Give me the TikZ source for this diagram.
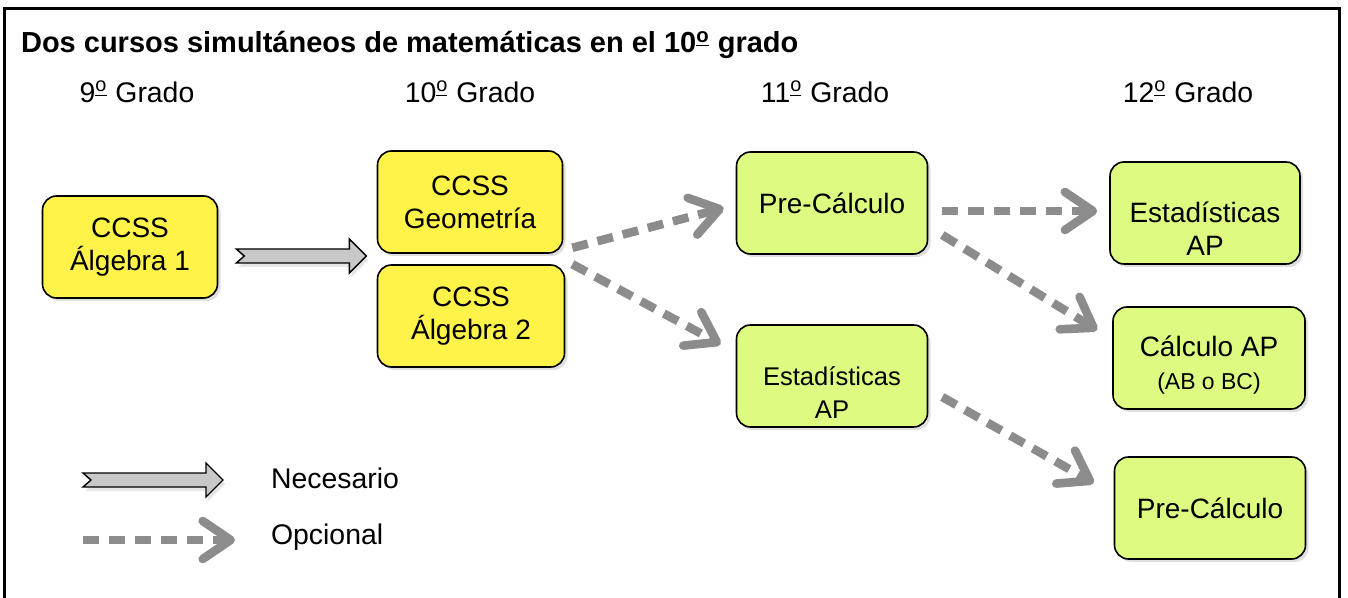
\documentclass[tikz,border=0pt]{standalone}
\usepackage{fontspec}
\setmainfont{Liberation Sans}
\usetikzlibrary{arrows.meta,calc,shadows}

\definecolor{boxyellow}{RGB}{255,243,74}
\definecolor{boxgreen}{RGB}{221,251,128}
\definecolor{dashgray}{RGB}{140,140,140}
\definecolor{shaftgray}{RGB}{200,200,200}

\tikzset{
  course/.style={draw=black, line width=0.8pt, rounded corners=7pt, align=center,
    font=\fontsize{14}{16.5}\selectfont, minimum width=94pt, minimum height=51pt,
    inner sep=2pt, drop shadow={shadow xshift=1.5pt, shadow yshift=-1.5pt, opacity=0.25}},
  grade/.style={font=\fontsize{14.2}{16}\selectfont},
  optional/.style={draw=dashgray, line width=4.3pt, dash pattern=on 8pt off 5pt,
    -{Straight Barb[length=14pt, width=19pt, round]}},
  needed/.style={fill=shaftgray, draw=black, line width=0.7pt, line join=miter,
    drop shadow={shadow xshift=1pt, shadow yshift=-2pt, opacity=0.2}}
}

% ordinal mark
\newcommand{\ord}{\textsuperscript{\underline{o}}}

% block arrow: tail point, length
\newcommand{\needarrow}[2]{%
  \filldraw[needed] ($(#1)+(8,0)$) -- ++(-8,-7) -- ++({#2-17},0) -- ++(0,-10)
    -- ++(17,17) -- ++(-17,17) -- ++(0,-10) -- ++({17-#2},0) -- cycle;
}

\begin{document}
\begin{tikzpicture}[x=0.5pt, y=-0.5pt]
  \useasboundingbox (0,0) rectangle (1348,598);
  % frame
  \draw[line width=1.5pt] (4,598) -- (4,9) -- (1339,9) -- (1339,598);

  % Title and grades
  \node[anchor=west, font=\bfseries\fontsize{14.5}{16}\selectfont] (title) at (14,45)
    {Dos cursos simultáneos de matemáticas en el 10\ord{} grado};
  \node[grade] (g9) at (137,92) {9\ord{} Grado};
  \node[grade] (g10) at (470,92) {10\ord{} Grado};
  \node[grade] (g11) at (825,92) {11\ord{} Grado};
  \node[grade] (g12) at (1188,92) {12\ord{} Grado};

  % Grade 9 and 10
  \node[course, fill=boxyellow, minimum width=87.5pt] (alg1) at (130,247) {CCSS\\Álgebra 1};
  \node[course, fill=boxyellow, minimum width=92.5pt] (geo) at (470,202) {CCSS\\Geometría};
  \node[course, fill=boxyellow, minimum width=93.5pt] (alg2) at (471,316) {CCSS\\Álgebra 2};

  % Grade 11
  \node[course, fill=boxgreen, minimum width=95.5pt] (pre11) at (832,203) {Pre-Cálculo};
  \node[course, fill=boxgreen, minimum width=95.5pt, font=\fontsize{12.8}{16.5}\selectfont] (est11) at (832,376)
    {\rule{0pt}{26pt}Estadísticas\\AP};

  % Grade 12
  \node[course, fill=boxgreen, minimum width=95pt] (est12) at (1205,213) {\rule{0pt}{26pt}Estadísticas\\AP};
  \node[course, fill=boxgreen, minimum width=96pt] (calc) at (1209,358)
    {\rule{0pt}{17pt}Cálculo AP\\{\fontsize{11.5}{12}\selectfont (AB o BC)}};
  \node[course, fill=boxgreen, minimum width=95.5pt] (pre12) at (1210,508) {Pre-Cálculo};

  % Necessary
  \coordinate (needtail) at ([shift={(18,9)}]alg1.east);
  \needarrow{needtail}{130}

  % Optional
  \draw[optional] ([shift={(9,-6)}]geo.south east) -- ([shift={(-12,5)}]pre11.west);
  \draw[optional] ([shift={(7,0)}]alg2.north east) -- ([shift={(-15,20)}]est11.north west);
  \draw[optional] ([shift={(14,8)}]pre11.east) -- ([shift={(-12,-2)}]est12.west);
  \draw[optional] ([shift={(14,32)}]pre11.east) -- ([shift={(-15,-28)}]calc.west);
  \draw[optional] ([shift={(14,21)}]est11.east) -- ([shift={(-20,-25)}]pre12.west);

  % Legend
  \coordinate (keyneed) at (83,480);
  \needarrow{keyneed}{140}
  \node[grade, anchor=west] (necesario) at (264,478) {Necesario};
  \coordinate (keyoptA) at (83,540);
  \coordinate (keyoptB) at (235,540);
  \draw[optional] (keyoptA) -- (keyoptB);
  \node[grade, anchor=west] (opcional) at (264,537) {Opcional};
\end{tikzpicture}
\end{document}
